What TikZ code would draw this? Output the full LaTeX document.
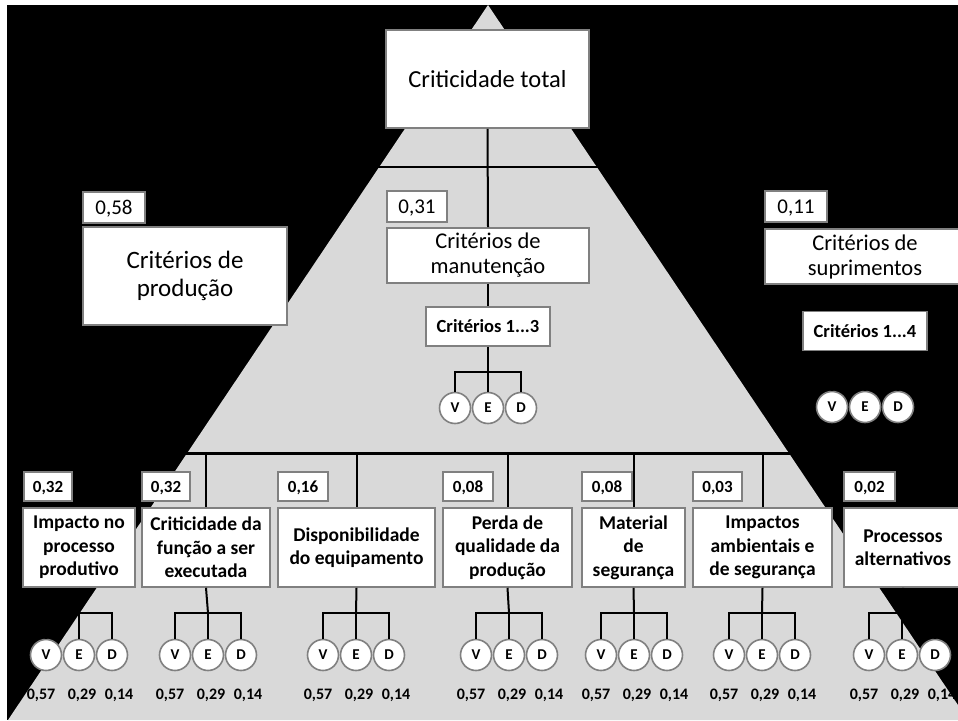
\documentclass[tikz,border=0pt]{standalone}
\usepackage{fontspec}
\setmainfont{Carlito}
\definecolor{trigray}{RGB}{217,217,217}
\definecolor{bordgray}{RGB}{128,128,128}
\newcommand{\myfs}[2]{\fontsize{#1}{#2}\selectfont}
% #1 name, #2 x of E circle / box centre line, #3 box centre x, #4 box width,
% #5 label centre x, #6 label width, #7 label, #8 box text
\newcommand{\crgroup}[8]{%
  \node[botbox, minimum width=#4pt] (#1) at (#3,547.5) {#8};
  \node[botlab, minimum width=#6pt] (#1w) at (#5,486.5) {#7};
  \node[vedc] (#1v) at (#2-33,655) {V};
  \node[vedc] (#1e) at (#2,655) {E};
  \node[vedc] (#1d) at (#2+33,655) {D};
  \node[numtxt] (#1n1) at (#2-38,695) {0,57};
  \node[numtxt] (#1n2) at (#2+3,695) {0,29};
  \node[numtxt] (#1n3) at (#2+40,695) {0,14};
  \coordinate (#1k) at (#2,613);
  \draw[conn] (#1.north |- hl) -- (#1.north);
  \draw[conn] (#1.south) -- (#1k);
  \draw[conn] (#1v.north) |- (#1k) -| (#1d.north);
  \draw[conn] (#1k) -- (#1e.north);
}
\begin{document}
\begin{tikzpicture}[x=1pt,y=-1pt,
  box/.style={draw=bordgray, line width=1.6pt, fill=white, inner sep=0pt, align=center},
  topbox/.style={box, font=\myfs{22.5}{25}},
  wlab/.style={box, minimum height=31pt, text depth=0pt, font=\myfs{21}{24}},
  critbox/.style={box, minimum width=124pt, minimum height=39pt, font=\myfs{18.5}{21}\bfseries},
  botbox/.style={box, minimum height=79pt, font=\myfs{19.5}{23.5}\bfseries},
  botlab/.style={box, minimum height=29pt, text depth=0pt, font=\myfs{17}{19}\bfseries},
  vedc/.style={circle, draw=bordgray, line width=1.6pt, fill=white, minimum size=31pt, inner sep=0pt, font=\myfs{15}{17}\bfseries},
  numtxt/.style={inner sep=0pt, font=\myfs{16}{18}\bfseries},
  conn/.style={line width=2pt, black},
  thickconn/.style={line width=3pt, black}
]
\useasboundingbox (0,0) rectangle (958,720);
\clip (0,0) rectangle (958,720);
\fill[white] (0,0) rectangle (958,720);
\fill[black] (7,5) rectangle (958,720);
\fill[trigray] (488,5) -- (8,720) -- (968,720) -- cycle;

\coordinate (tl) at (185,167);
\coordinate (hl) at (79,453);

% top level
\node[box, minimum width=203pt, minimum height=98pt, font=\myfs{24.5}{28}] (tot) at (487.5,79) {Criticidade total};

\node[wlab, minimum width=62pt] (w58) at (114,207.5) {0,58};
\node[box, minimum width=204pt, minimum height=98pt, font=\myfs{25}{28}] (prod) at (185,276) {Critérios de\\produção};

\node[wlab, minimum width=60pt] (w31) at (417,206.5) {0,31};
\node[topbox, minimum width=202pt, minimum height=55pt] (man) at (488,255.5) {Critérios de\\manutenção};
\node[critbox] (c13) at (488,326.5) {Critérios 1...3};
\node[vedc] (mv) at (455,408) {V};
\node[vedc] (me) at (488,408) {E};
\node[vedc] (md) at (521,408) {D};
\coordinate (mk) at (488,372);

\node[wlab, minimum width=62pt] (w11) at (796,206.5) {0,11};
\node[topbox, minimum width=200pt, minimum height=55pt] (sup) at (865,256.5) {Critérios de\\suprimentos};
\node[critbox] (c14) at (865,331) {Critérios 1...4};
\node[vedc] (sv) at (832,407) {V};
\node[vedc] (se) at (865,407) {E};
\node[vedc] (sd) at (898,407) {D};
\coordinate (sk) at (865,375);

% connectors of the upper part
\draw[conn] (prod.north |- tl) -- (sup.north |- tl);
\draw[conn] (tot.south) -- (man.north);
\draw[conn] (prod.north |- tl) -- (prod.north);
\draw[conn] (sup.north |- tl) -- (sup.north);
\draw[conn] (man.south) -- (c13.north);
\draw[conn] (c13.south) -- (mk);
\draw[conn] (mv.north) |- (mk) -| (md.north);
\draw[conn] (mk) -- (me.north);
\draw[conn] (sup.south) -- (c14.north);
\draw[conn] (c14.south) -- (sk);
\draw[conn] (sv.north) |- (sk) -| (sd.north);
\draw[conn] (sk) -- (se.north);

% production criteria level
\draw[thickconn] (hl) -- (903,453);
\draw[conn] (prod.south) -- (prod.south |- hl);

\crgroup{imp}{79}{79}{112}{48}{48}{0,32}{Impacto no\\processo\\produtivo}
\crgroup{crf}{208}{206}{128}{166}{48}{0,32}{Criticidade da\\função a ser\\executada}
\crgroup{dis}{356}{356.5}{157}{303}{50}{0,16}{Disponibilidade\\do equipamento}
\crgroup{per}{509}{507.5}{129}{468}{50}{0,08}{Perda de\\qualidade da\\produção}
\crgroup{mat}{634}{633.5}{103}{607}{50}{0,08}{Material\\de\\segurança}
\crgroup{amb}{762}{762.5}{139}{717.5}{49}{0,03}{Impactos\\ambientais e\\de segurança}
\crgroup{pro}{902}{903}{118}{869.5}{51}{0,02}{Processos\\alternativos}
\end{tikzpicture}
\end{document}
